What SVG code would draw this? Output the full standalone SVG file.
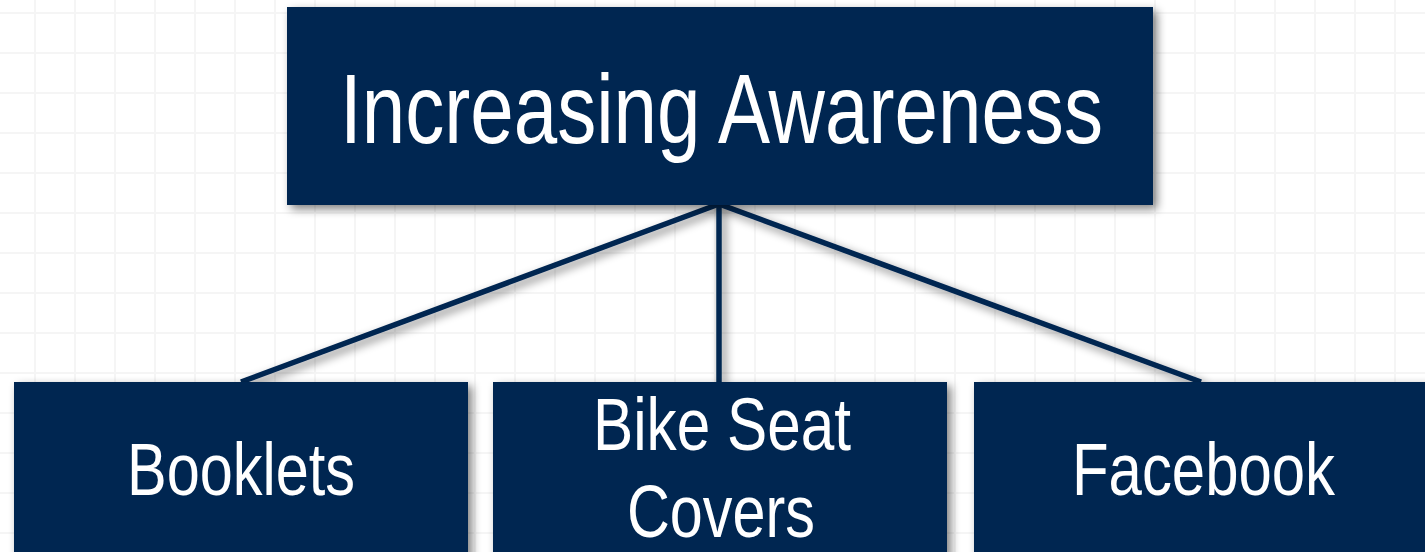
<svg xmlns="http://www.w3.org/2000/svg" width="1425" height="552" viewBox="0 0 1425 552">
  <defs>
    <pattern id="grid" x="15" y="-7" width="40" height="40" patternUnits="userSpaceOnUse">
      <path d="M20 0 V40 M0 20 H40" stroke="#f5f5f5" stroke-width="2" fill="none"/>
    </pattern>
    <filter id="shadow" x="-10%" y="-10%" width="120%" height="130%">
      <feGaussianBlur in="SourceAlpha" stdDeviation="5"/>
      <feOffset dx="4" dy="4" result="b"/>
      <feComponentTransfer><feFuncA type="linear" slope="0.5"/></feComponentTransfer>
      <feMerge><feMergeNode/><feMergeNode in="SourceGraphic"/></feMerge>
    </filter>
  </defs>
  <style>
    .box { fill: #022651; }
    .lbl { fill: #ffffff; font-family: "Liberation Sans", Arial, sans-serif; text-anchor: middle; }
    .conn { stroke: #022651; stroke-width: 5.5; fill: none; }
  </style>
  <rect width="1425" height="552" fill="#ffffff"/>
  <rect width="1425" height="552" fill="url(#grid)"/>
  <g id="connectors" filter="url(#shadow)">
    <line class="conn" x1="719" y1="204" x2="241" y2="382"/>
    <line class="conn" x1="719" y1="204" x2="719" y2="382"/>
    <line class="conn" x1="719" y1="204" x2="1201" y2="382"/>
  </g>
  <g id="node-top">
    <rect class="box" x="287" y="7" width="866" height="198" filter="url(#shadow)"/>
    <text class="lbl" x="721.5" y="143" font-size="98" textLength="763" lengthAdjust="spacingAndGlyphs">Increasing Awareness</text>
  </g>
  <g id="node-booklets">
    <rect class="box" x="14" y="382" width="454" height="180" filter="url(#shadow)"/>
    <text class="lbl" x="241" y="495" font-size="74" textLength="228" lengthAdjust="spacingAndGlyphs">Booklets</text>
  </g>
  <g id="node-bike">
    <rect class="box" x="493" y="382" width="454" height="180" filter="url(#shadow)"/>
    <text class="lbl" x="722" y="450" font-size="74" textLength="258" lengthAdjust="spacingAndGlyphs">Bike Seat</text>
    <text class="lbl" x="721" y="537" font-size="74" textLength="188" lengthAdjust="spacingAndGlyphs">Covers</text>
  </g>
  <g id="node-facebook">
    <rect class="box" x="974" y="382" width="470" height="180" filter="url(#shadow)"/>
    <text class="lbl" x="1203.5" y="495" font-size="74" textLength="263" lengthAdjust="spacingAndGlyphs">Facebook</text>
  </g>
</svg>
